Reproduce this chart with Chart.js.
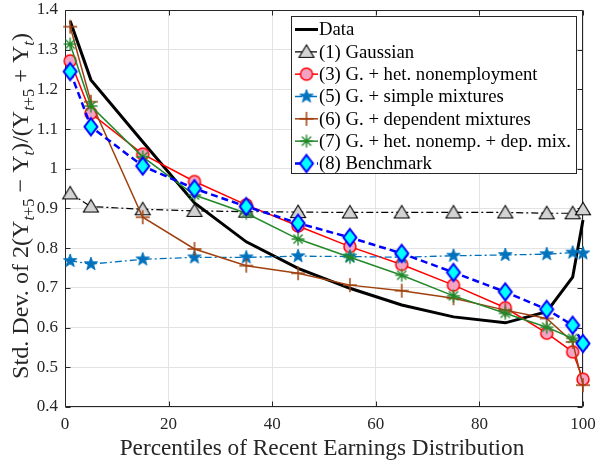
<!DOCTYPE html>
<html><head><meta charset="utf-8">
<script src="https://cdn.jsdelivr.net/npm/chart.js@4/dist/chart.umd.min.js"></script>
<style>html,body{margin:0;padding:0;background:#fff}canvas{display:block}</style>
</head><body>
<canvas id="c" width="595" height="465"></canvas>
<script>
// ---- data ----
const PCT    = [1, 5, 15, 25, 35, 45, 55, 65, 75, 85, 93, 98, 100];
const DATA   = [1.372, 1.224, 1.068, 0.914, 0.816, 0.749, 0.699, 0.657, 0.627, 0.612, 0.640, 0.727, 0.871];
const GAUSS  = [0.938, 0.905, 0.898, 0.894, 0.892, 0.891, 0.890, 0.890, 0.890, 0.890, 0.888, 0.888, 0.898];
const HETNON = [1.272, 1.140, 1.037, 0.968, 0.909, 0.856, 0.804, 0.759, 0.707, 0.650, 0.586, 0.539, 0.470];
const SIMPLE = [0.768, 0.760, 0.772, 0.777, 0.777, 0.780, 0.779, 0.777, 0.781, 0.783, 0.785, 0.789, 0.787];
const DEPMIX = [1.358, 1.169, 0.878, 0.798, 0.756, 0.737, 0.707, 0.693, 0.674, 0.644, 0.623, 0.564, 0.455];
const HETDEP = [1.314, 1.158, 1.030, 0.934, 0.888, 0.823, 0.777, 0.732, 0.680, 0.636, 0.601, 0.573, 0.560];
const BENCH  = [1.245, 1.106, 1.007, 0.950, 0.905, 0.863, 0.827, 0.787, 0.739, 0.690, 0.646, 0.606, 0.560];
const X_TICKS = [0, 20, 40, 60, 80, 100];
const Y_TICKS = [0.4, 0.5, 0.6, 0.7, 0.8, 0.9, 1.0, 1.1, 1.2, 1.3, 1.4];
const NAMES = ['Data', '(1) Gaussian', '(3) G. + het. nonemployment', '(5) G. + simple mixtures',
               '(6) G. + dependent mixtures', '(7) G. + het. nonemp. + dep. mix.', '(8) Benchmark'];
const X_TITLE = 'Percentiles of Recent Earnings Distribution';

const SERIF = "'Liberation Serif','Times New Roman',serif";
const TXT = '#262626';

// ---- marker images ----
function mk(size, draw) {
  const c = document.createElement('canvas'); c.width = c.height = size;
  const g = c.getContext('2d'); g.translate(size / 2, size / 2); draw(g); return c;
}
const M_TRI = mk(20, g => { g.beginPath(); g.moveTo(0, -7); g.lineTo(7.5, 5.5); g.lineTo(-7.5, 5.5); g.closePath();
  g.fillStyle = '#d3d3d3'; g.fill(); g.lineWidth = 1.1; g.strokeStyle = '#000'; g.stroke(); });
const M_CIRC = mk(18, g => { g.beginPath(); g.arc(0, 0, 6, 0, Math.PI * 2);
  g.fillStyle = '#f5a3c4'; g.fill(); g.lineWidth = 1.5; g.strokeStyle = '#ff0000'; g.stroke(); });
const M_STAR = mk(18, g => { g.beginPath();
  for (let i = 0; i < 10; i++) { const r = i % 2 ? 2.8 : 7; const a = -Math.PI / 2 + i * Math.PI / 5;
    g.lineTo(r * Math.cos(a), r * Math.sin(a)); }
  g.closePath(); g.fillStyle = '#0072BD'; g.fill(); g.lineWidth = 1; g.strokeStyle = '#0072BD'; g.stroke(); });
const M_PLUS = mk(18, g => { g.beginPath(); g.moveTo(-7, 0); g.lineTo(7, 0); g.moveTo(0, -7); g.lineTo(0, 7);
  g.lineWidth = 1.5; g.strokeStyle = '#a0400f'; g.stroke(); });
const M_AST = mk(18, g => { g.beginPath(); const r = 6.5, d = r * Math.SQRT1_2;
  g.moveTo(-r, 0); g.lineTo(r, 0); g.moveTo(0, -r); g.lineTo(0, r);
  g.moveTo(-d, -d); g.lineTo(d, d); g.moveTo(-d, d); g.lineTo(d, -d);
  g.lineWidth = 1.4; g.strokeStyle = '#22892a'; g.stroke(); });
const M_DIA = mk(22, g => { g.beginPath(); g.moveTo(0, -8.5); g.lineTo(6.5, 0); g.lineTo(0, 8.5); g.lineTo(-6.5, 0); g.closePath();
  g.fillStyle = '#00ffff'; g.fill(); g.lineWidth = 2; g.strokeStyle = '#0000ff'; g.stroke(); });

const STYLES = [
  { color: '#000000', width: 3,   dash: [],            marker: null },
  { color: '#000000', width: 1.2, dash: [7, 3, 2, 3],  marker: M_TRI },
  { color: '#ff0000', width: 1.5, dash: [],            marker: M_CIRC },
  { color: '#0072BD', width: 1.3, dash: [7, 3, 2, 3],  marker: M_STAR },
  { color: '#a0400f', width: 1.5, dash: [],            marker: M_PLUS },
  { color: '#22892a', width: 1.5, dash: [],            marker: M_AST },
  { color: '#0000ff', width: 2.5, dash: [7, 4],        marker: M_DIA },
];
const SERIES = [DATA, GAUSS, HETNON, SIMPLE, DEPMIX, HETDEP, BENCH];

const datasets = SERIES.map((vals, i) => ({
  label: NAMES[i],
  data: PCT.map((x, k) => ({ x: x, y: vals[k] })),
  borderColor: STYLES[i].color,
  backgroundColor: STYLES[i].color,
  borderWidth: STYLES[i].width,
  borderDash: STYLES[i].dash,
  tension: 0,
  pointStyle: STYLES[i].marker || 'circle',
  pointRadius: STYLES[i].marker ? 6 : 0,
  pointHoverRadius: STYLES[i].marker ? 6 : 0,
  clip: false,
  order: SERIES.length - i,
}));

function fitFont(g, text, target, base, family, style) {
  g.font = (style || '') + ' ' + base + 'px ' + family;
  const w = g.measureText(text).width;
  return base * target / w;
}

const decor = {
  id: 'decor',
  beforeDatasetsDraw(chart) {
    const g = chart.ctx, a = chart.chartArea, xs = chart.scales.x, ys = chart.scales.y;
    const L = Math.round(a.left) + 0.5, R = Math.round(a.right) - 0.5, T = Math.round(a.top) + 0.5, B = Math.round(a.bottom) - 0.5;
    g.save();
    g.strokeStyle = TXT; g.lineWidth = 1; g.setLineDash([]);
    g.beginPath(); g.rect(L, T, R - L, B - T); g.stroke();
    g.beginPath();
    X_TICKS.forEach(v => { const px = Math.round(xs.getPixelForValue(v)) + 0.5;
      g.moveTo(px, B); g.lineTo(px, B - 5); g.moveTo(px, T); g.lineTo(px, T + 5); });
    Y_TICKS.forEach(v => { const py = Math.round(ys.getPixelForValue(v)) + 0.5;
      g.moveTo(L, py); g.lineTo(L + 5, py); g.moveTo(R, py); g.lineTo(R - 5, py); });
    g.stroke();
    g.restore();
  },
  afterDraw(chart) {
    const g = chart.ctx, a = chart.chartArea;
    g.save();
    g.fillStyle = TXT;
    // x title
    const fx = fitFont(g, X_TITLE, 405, 20, SERIF);
    g.font = fx + 'px ' + SERIF; g.textAlign = 'center'; g.textBaseline = 'alphabetic';
    g.fillText(X_TITLE, 322, 455);
    // y title with subscripts
    const segs = [['Std. Dev. of 2(Y', 0], ['t', 1], ['+5', 2], [' \u2212 Y', 0], ['t', 1], [')/(Y', 0],
                  ['t', 1], ['+5', 2], [' + Y', 0], ['t', 1], [')', 0]];
    let fs = 22, ss = 15;
    const fontOf = t => t === 0 ? fs + 'px ' + SERIF : (t === 1 ? 'italic ' + ss + 'px ' + SERIF : ss + 'px ' + SERIF);
    const measure = () => { let tot = 0; segs.forEach(s => { g.font = fontOf(s[1]); tot += g.measureText(s[0]).width; }); return tot; };
    let total = measure();
    const k = 346 / total; fs *= k; ss *= k; total = measure();
    g.translate(28, 206); g.rotate(-Math.PI / 2);
    g.textAlign = 'left';
    let x = -total / 2;
    segs.forEach(s => { g.font = fontOf(s[1]); g.fillText(s[0], x, s[1] ? 6 : 0); x += g.measureText(s[0]).width; });
    g.restore();

    // legend
    g.save();
    const bx = 291.5, by = 16.5, bw = 285, bh = 157;
    g.fillStyle = '#ffffff'; g.fillRect(bx, by, bw, bh);
    g.strokeStyle = TXT; g.lineWidth = 1; g.strokeRect(bx, by, bw, bh);
    const lf = fitFont(g, NAMES[5], 252, 16, SERIF);
    NAMES.forEach((n, i) => {
      const cy = 29.5 + i * 22.33, st = STYLES[i];
      g.beginPath(); g.setLineDash(st.dash); g.lineWidth = st.width; g.strokeStyle = st.color;
      g.moveTo(295, cy); g.lineTo(318, cy); g.stroke(); g.setLineDash([]);
      if (st.marker) g.drawImage(st.marker, 306.5 - st.marker.width / 2, cy - st.marker.height / 2);
      g.fillStyle = '#000'; g.font = lf + 'px ' + SERIF; g.textAlign = 'left'; g.textBaseline = 'middle';
      g.fillText(n, 319, cy + 1);
    });
    g.restore();
  }
};

new Chart(document.getElementById('c'), {
  type: 'line',
  data: { datasets: datasets },
  options: {
    responsive: false, animation: false, devicePixelRatio: 1,
    layout: { padding: { top: 10, right: 12, left: 0, bottom: 0 } },
    plugins: { legend: { display: false }, tooltip: { enabled: false } },
    scales: {
      x: {
        type: 'linear', min: 0, max: 100,
        afterBuildTicks: s => { s.ticks = X_TICKS.map(v => ({ value: v })); },
        ticks: { font: { family: SERIF, size: 17 }, color: TXT, padding: 7, maxRotation: 0 },
        grid: { color: '#e3e3e3', drawTicks: false },
        border: { display: false },
        afterFit: s => { s.height = 58; s.paddingLeft = 0; s.paddingRight = 0; }
      },
      y: {
        type: 'linear', min: 0.4, max: 1.4,
        afterBuildTicks: s => { s.ticks = Y_TICKS.map(v => ({ value: v })); },
        ticks: { font: { family: SERIF, size: 17 }, color: TXT, padding: 7,
                 callback: v => String(parseFloat(Number(v).toFixed(1))) },
        grid: { color: '#e3e3e3', drawTicks: false },
        border: { display: false },
        afterFit: s => { s.width = 65; s.paddingTop = 0; s.paddingBottom = 0; }
      }
    }
  },
  plugins: [decor]
});
</script>
</body></html>
